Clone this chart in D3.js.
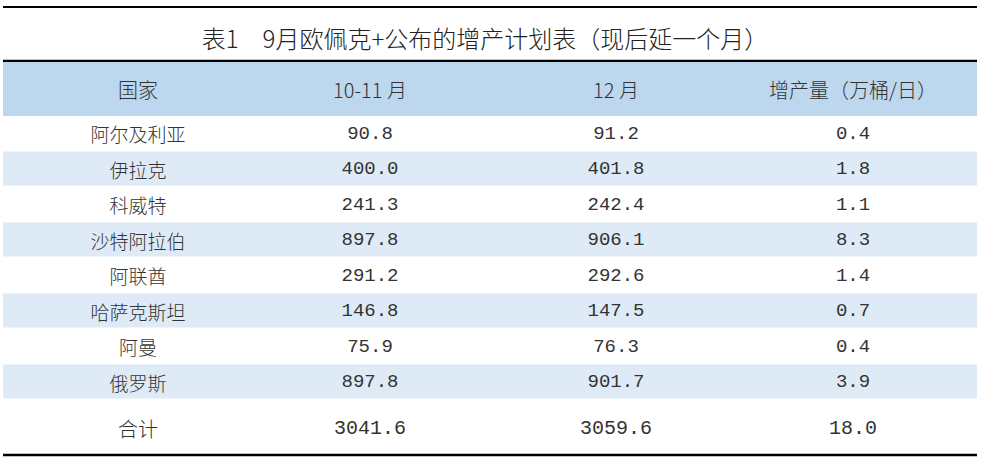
<!DOCTYPE html>
<html><head><meta charset="utf-8">
<script src="https://cdn.jsdelivr.net/npm/d3@7"></script>
<style>body{margin:0;background:#fff}</style></head>
<body><svg id="c" width="984" height="464"></svg>
<script>
const title = "表1　9月欧佩克+公布的增产计划表（现后延一个月）";
const headers = ["国家", "10-11 月", "12 月", "增产量（万桶/日）"];
const countries = ["阿尔及利亚","伊拉克","科威特","沙特阿拉伯","阿联酋","哈萨克斯坦","阿曼","俄罗斯","合计"];
const octNov = ["90.8","400.0","241.3","897.8","291.2","146.8","75.9","897.8","3041.6"];
const dec = ["91.2","401.8","242.4","906.1","292.6","147.5","76.3","901.7","3059.6"];
const increase = ["0.4","1.8","1.1","8.3","1.4","0.7","0.4","3.9","18.0"];

const svg = d3.select("#c");
const x0 = 3, x1 = 977;
const colCenters = [138, 370, 616, 853];
const rowY = d3.scaleBand().domain(d3.range(8)).range([116, 400]);
const font = "'Noto Sans CJK SC', sans-serif";

svg.append("line").attr("x1",x0).attr("x2",x1).attr("y1",7).attr("y2",7).attr("stroke","#000").attr("stroke-width",2);
svg.append("text").attr("x",485).attr("y",37).attr("text-anchor","middle").attr("dominant-baseline","central")
  .attr("font-family",font).attr("font-weight",300).attr("font-size",24).attr("fill","#222").text(title);
svg.append("line").attr("x1",x0).attr("x2",x1).attr("y1",61).attr("y2",61).attr("stroke","#000").attr("stroke-width",2.5);
svg.append("rect").attr("x",x0).attr("y",62).attr("width",x1-x0).attr("height",54).attr("fill","#bdd7ee");
headers.forEach((h,i)=>svg.append("text").attr("x",colCenters[i]).attr("y",89).attr("text-anchor","middle")
  .attr("dominant-baseline","central").attr("font-family",font).attr("font-weight",300).attr("font-size",20).attr("fill","#333").text(h));

svg.selectAll("rect.row").data(d3.range(8)).join("rect").attr("class","row")
  .attr("x",x0).attr("width",x1-x0).attr("y",d=>rowY(d)).attr("height",rowY.bandwidth()-1.5)
  .attr("fill",d=>d%2? "#deebf7":"#fff");

const cols = [countries, octNov, dec, increase];
cols.forEach((arr,ci)=>{
  svg.selectAll(null).data(arr).join("text")
    .attr("x",colCenters[ci])
    .attr("y",(d,i)=> i<8 ? rowY(i)+rowY.bandwidth()/2 : 428)
    .attr("text-anchor","middle").attr("dominant-baseline","central")
    .attr("font-family", ci===0 ? font : "'Liberation Mono', monospace")
    .attr("font-weight", ci===0 ? 300 : 400)
    .attr("fill","#333")
    .attr("font-size",(d,i)=> i===8 ? 20 : 19)
    .text(d=>d);
});
svg.append("line").attr("x1",x0).attr("x2",x1).attr("y1",455).attr("y2",455).attr("stroke","#000").attr("stroke-width",2.5);
</script></body></html>
